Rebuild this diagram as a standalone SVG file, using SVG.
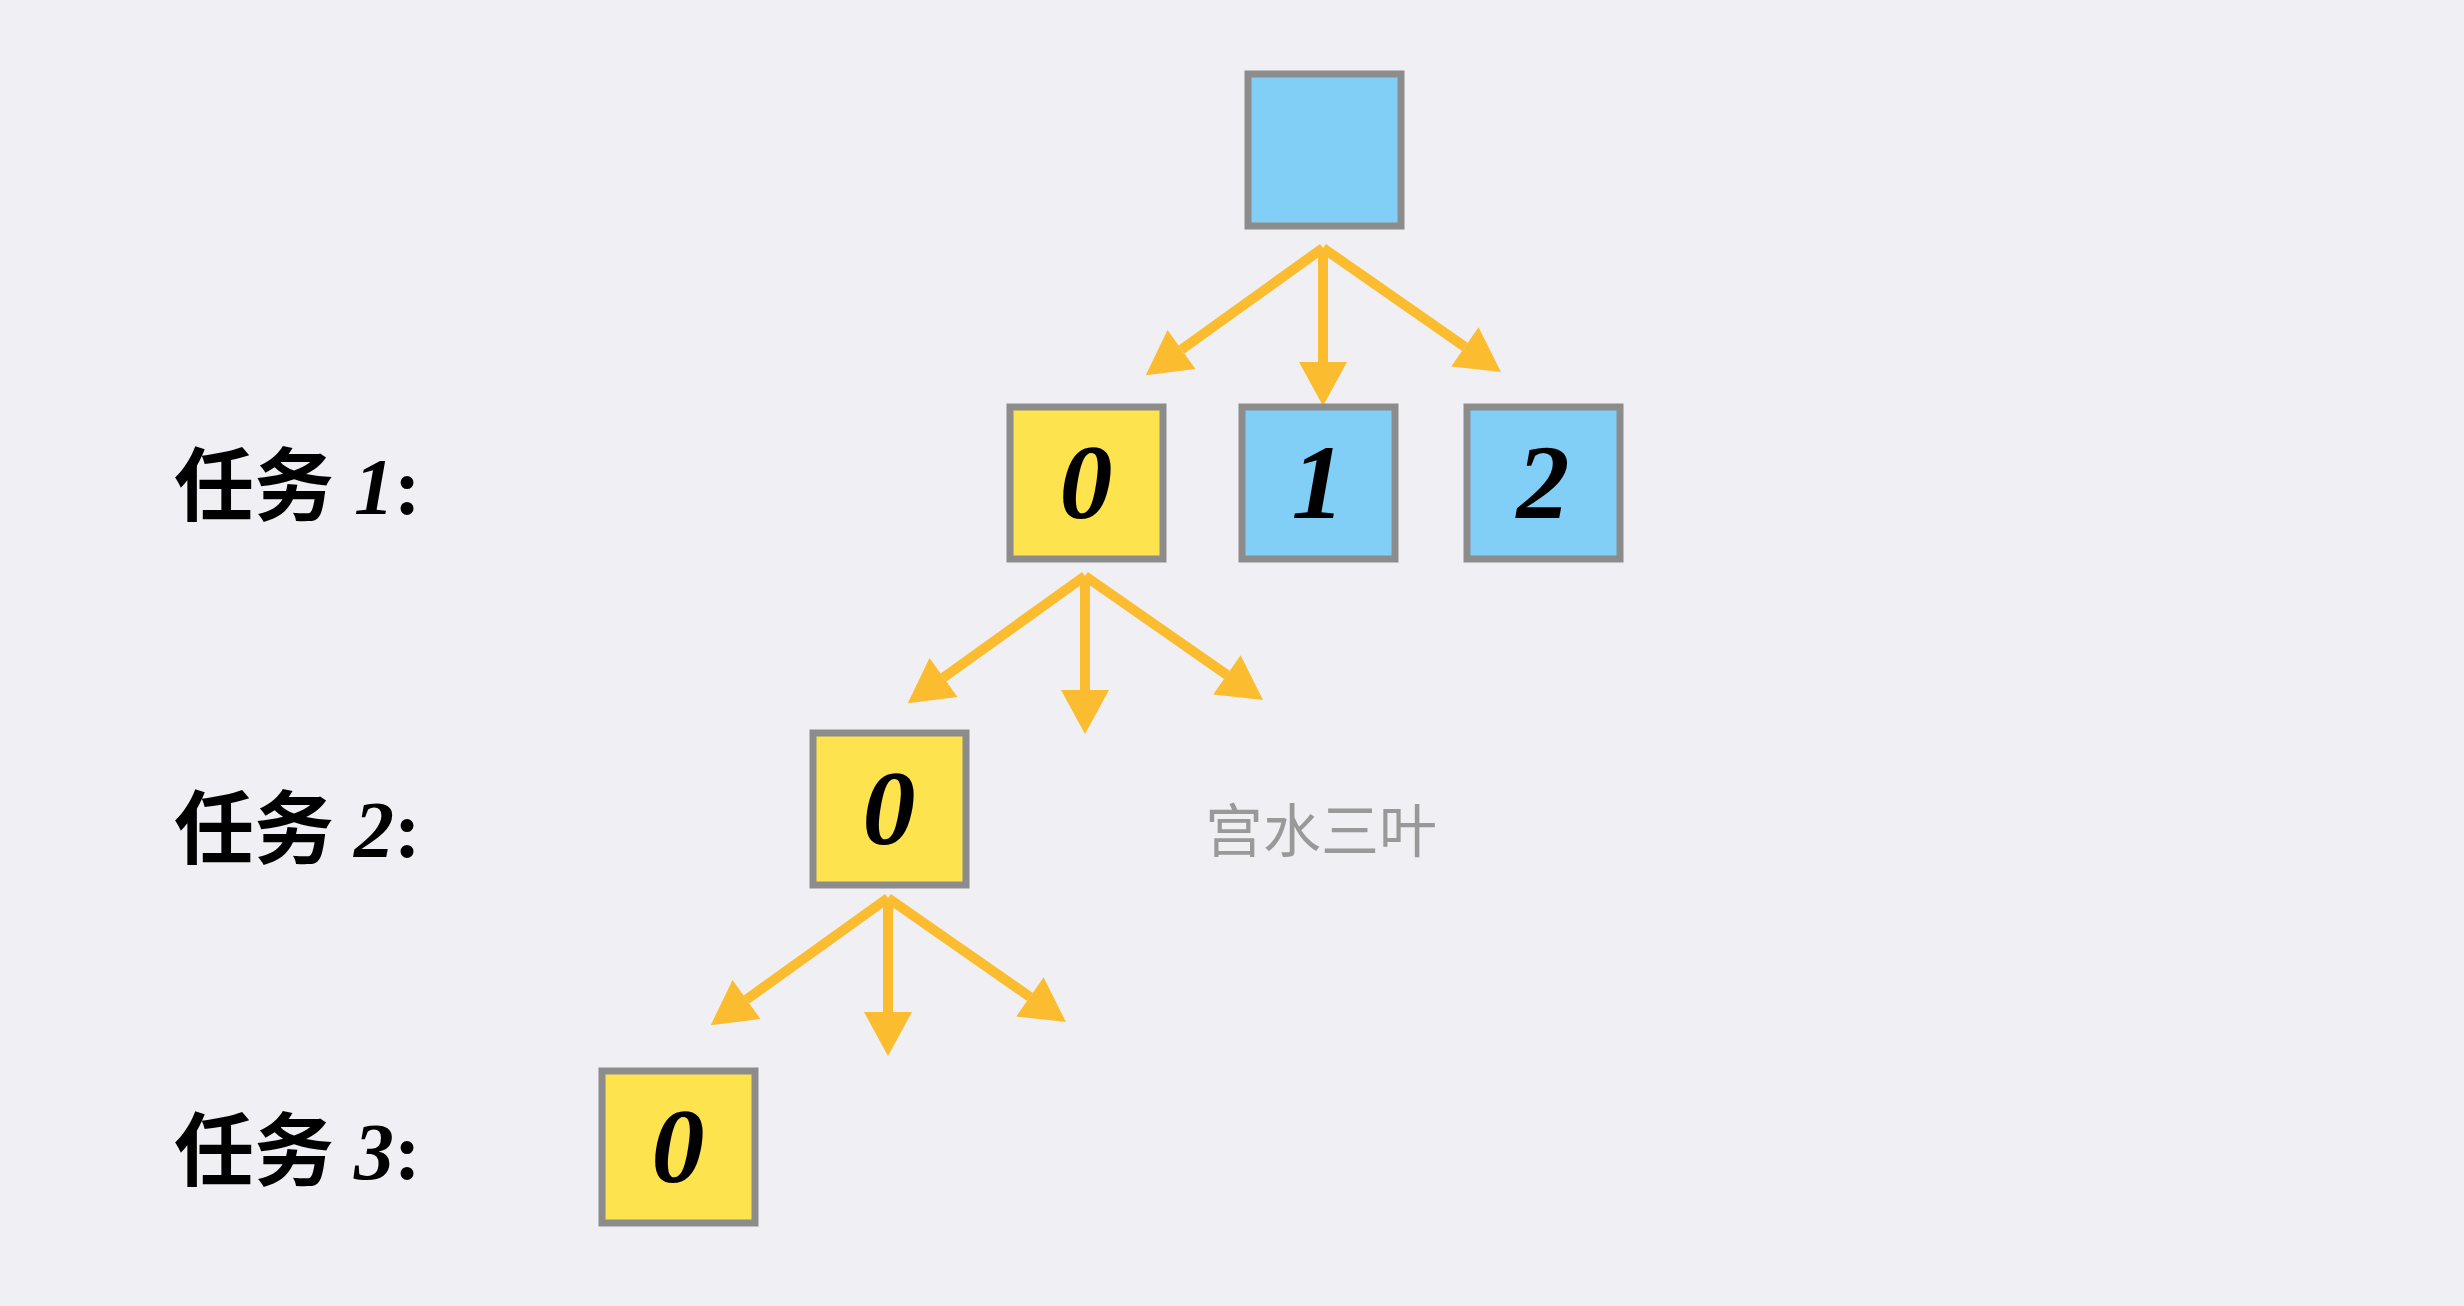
<svg xmlns="http://www.w3.org/2000/svg" width="2464" height="1306" viewBox="0 0 2464 1306">
<style>
.bg{fill:#f0f0f4}
.blue{fill:#81cff6;stroke:#8c8c8c;stroke-width:7}
.yel{fill:#fde34e;stroke:#8c8c8c;stroke-width:7}
.dig{font-family:'Liberation Serif','Times New Roman',Tinos,serif;font-style:italic;font-weight:700;font-size:106px;fill:#000;text-anchor:middle}
.lbl{font-family:'Liberation Serif','Times New Roman','Noto Sans CJK SC',serif;font-weight:700;font-size:80px;fill:#000}
.it{font-style:italic}
.wm{font-family:'Liberation Serif','Noto Sans CJK SC',serif;font-size:58px;fill:#999}
.arr{stroke:#fbbc2f;stroke-width:10;fill:none;marker-end:url(#ah)}
</style>
<defs>
<marker id="ah" markerUnits="userSpaceOnUse" markerWidth="52" markerHeight="52" viewBox="0 -26 46 52" refX="0" refY="0" orient="auto">
<path d="M0,-24 L44,0 L0,24 z" fill="#fbbc2f"/>
</marker>
</defs>
<rect class="bg" x="0" y="0" width="2464" height="1306"/>
<g id="connectors">
<line class="arr" x1="1323" y1="248" x2="1181.5" y2="349.5"/>
<line class="arr" x1="1323" y1="248" x2="1323" y2="362"/>
<line class="arr" x1="1323" y1="248" x2="1464.9" y2="346.9"/>
<line class="arr" x1="1085" y1="576" x2="943.5" y2="677.5"/>
<line class="arr" x1="1085" y1="576" x2="1085" y2="690"/>
<line class="arr" x1="1085" y1="576" x2="1226.9" y2="674.9"/>
<line class="arr" x1="888" y1="898" x2="746.5" y2="999.5"/>
<line class="arr" x1="888" y1="898" x2="888" y2="1012"/>
<line class="arr" x1="888" y1="898" x2="1029.9" y2="996.9"/>
</g>
<g id="root"><rect class="blue" x="1248" y="74" width="153" height="152"/></g>
<g id="r1n0"><rect class="yel" x="1010" y="407" width="153" height="152"/><text class="dig" x="1086" y="518">0</text></g>
<g id="r1n1"><rect class="blue" x="1242" y="407" width="153" height="152"/><text class="dig" x="1318" y="518">1</text></g>
<g id="r1n2"><rect class="blue" x="1467" y="407" width="153" height="152"/><text class="dig" x="1543" y="518">2</text></g>
<g id="r2n0"><rect class="yel" x="813" y="733" width="153" height="152"/><text class="dig" x="889" y="844">0</text></g>
<g id="r3n0"><rect class="yel" x="602" y="1071" width="153" height="152"/><text class="dig" x="678" y="1182">0</text></g>
<g id="labels">
<text class="lbl" x="174" y="514">任务 <tspan class="it">1</tspan>:</text>
<text class="lbl" x="174" y="857">任务 <tspan class="it">2</tspan>:</text>
<text class="lbl" x="174" y="1179">任务 <tspan class="it">3</tspan>:</text>
<text class="wm" x="1205" y="852">宫水三叶</text>
</g>
</svg>
